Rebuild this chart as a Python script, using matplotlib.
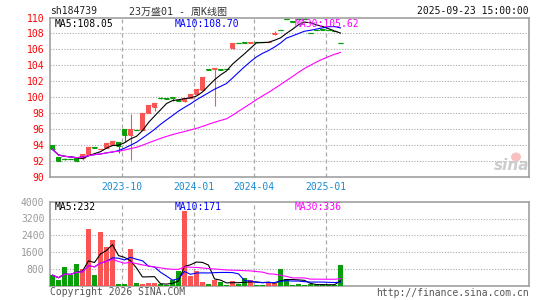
import matplotlib
matplotlib.use('Agg')
import matplotlib.pyplot as plt
from matplotlib.patches import Ellipse
import numpy as np
import pandas as pd

W, H = 545, 300

opens = [94.05, 92.6, 92.35, 92.35, 92.45, 92.45, 92.9, 93.75, 93.5, 93.7,
         94.05, 94.45, 96.0, 95.25, 95.95, 95.9, 98.0, 98.75, 99.95, 99.9,
         100.0, 99.65, 99.6, 99.9, 100.4, 100.95, 103.5, 103.5, 103.5, 103.55,
         106.15, 106.8, 106.9, 106.85, 106.95, 106.95, 106.9, 107.95, 108.45, 109.8,
         109.5, 109.8, 109.8, 108.1, 108.45, 108.5, 108.45, 108.3, 106.8]
closes = [93.5, 92.1, 92.3, 92.3, 92.1, 92.9, 93.8, 93.7, 93.55, 94.3,
          94.55, 93.95, 95.25, 96.0, 95.9, 98.1, 99.05, 99.25, 99.9, 99.85,
          99.95, 99.6, 99.9, 100.4, 101.0, 102.5, 103.45, 103.65, 103.45, 103.5,
          106.75, 106.75, 106.85, 106.9, 106.9, 106.9, 106.95, 108.1, 108.4, 109.75,
          109.45, 109.75, 109.75, 108.05, 108.4, 108.45, 108.4, 108.25, 106.75]
highs = [94.05, 92.6, 92.45, 92.35, 92.45, 92.9, 93.8, 93.75, 93.55, 94.3,
         94.55, 94.45, 96.0, 97.95, 95.95, 98.1, 99.05, 99.25, 100.05, 99.9,
         100.0, 99.65, 99.9, 100.4, 101.0, 102.5, 103.5, 103.65, 103.5, 103.55,
         106.75, 106.8, 106.9, 106.9, 106.95, 106.95, 106.95, 108.3, 108.45, 109.8,
         109.5, 109.8, 109.8, 108.1, 108.45, 108.5, 108.45, 108.3, 106.8]
lows = [93.5, 92.1, 92.2, 92.3, 92.1, 92.2, 92.9, 93.7, 93.5, 93.7,
        94.05, 93.05, 94.4, 92.2, 95.9, 95.9, 98.0, 98.35, 99.8, 99.85,
        99.55, 99.6, 99.4, 99.9, 100.4, 100.95, 103.45, 98.9, 103.45, 103.5,
        106.0, 106.75, 106.85, 106.85, 106.9, 106.9, 106.9, 107.85, 108.4, 109.75,
        109.45, 109.75, 109.75, 108.05, 108.4, 108.45, 108.4, 108.25, 106.75]
volumes = [500, 260, 890, 500, 1030, 810, 2680, 500, 2540, 1860,
           2200, 70, 70, 1760, 110, 70, 110, 110, 60, 30,
           260, 690, 3550, 450, 690, 160, 60, 260, 160, 25,
           210, 60, 350, 250, 40, 40, 160, 150, 780, 340,
           40, 70, 40, 60, 50, 40, 40, 40, 990]

date_labels = ['2023-10', '2024-01', '2024-04', '2025-01']
date_idx = [12, 24, 34, 46]
price_ticks = [90, 92, 94, 96, 98, 100, 102, 104, 106, 108, 110]
vol_ticks = [800, 1600, 2400, 3200, 4000]

RED = '#fa5555'
GREEN = '#0a9e0a'
GRID = '#aaaaaa'
FRAME = '#999999'
MONO = 'DejaVu Sans Mono'

o = np.array(opens); c = np.array(closes)
hi = np.array(highs); lo = np.array(lows)
v = np.array(volumes, dtype=float)
x = np.arange(len(c))
up = c >= o
cols = np.where(up, RED, GREEN)

s = pd.Series(c)
ma5 = s.rolling(5, min_periods=1).mean()
ma10 = s.rolling(10, min_periods=1).mean()
ma30 = s.rolling(30, min_periods=1).mean()
vs = pd.Series(v)
vma5 = vs.rolling(5, min_periods=1).mean()
vma10 = vs.rolling(10, min_periods=1).mean()
vma30 = vs.rolling(30, min_periods=1).mean()

fig = plt.figure(figsize=(W / 100, H / 100), dpi=100)
fig.patch.set_facecolor('white')

def px(xp, yp):
    return xp / W, 1 - yp / H

L, R = 50, 529.3
xlim = ((L - 52.5) / 6, (R - 52.5) / 6)

ptop, pbot = 17.5, 177.3
axp = fig.add_axes([L / W, 1 - pbot / H, (R - L) / W, (pbot - ptop) / H])
vtop, vbot = 201.7, 285.7
axv = fig.add_axes([L / W, 1 - vbot / H, (R - L) / W, (vbot - vtop) / H])

for ax in (axp, axv):
    ax.set_xlim(*xlim)
    for sp in ax.spines.values():
        sp.set_color(FRAME)
        sp.set_linewidth(1.1)
    ax.tick_params(length=0)
    ax.set_xticks([])
    for di in date_idx:
        ax.axvline(di - 0.42, color=GRID, lw=0.9, ls=(0, (3.2, 2.4)), zorder=1)

axp.set_ylim(90, 110)
axp.set_yticks(price_ticks)
axp.set_yticklabels([str(t) for t in price_ticks], color='#ff0000',
                    fontsize=7, family=MONO)
axp.tick_params(axis='y', pad=4)
for t in price_ticks[1:-1]:
    axp.axhline(t, color=GRID, lw=0.8, ls=(0, (1, 1.5)), zorder=1)

axp.vlines(x, lo, hi, colors=cols, lw=0.8, zorder=3)
axp.bar(x, np.abs(c - o), bottom=np.minimum(o, c), width=0.82, color=cols,
        linewidth=0, zorder=3)
axp.hlines(o, x - 0.41, x + 0.41, colors=cols, lw=0.8, zorder=3)
axp.hlines(c, x - 0.41, x + 0.41, colors=cols, lw=0.8, zorder=3)

axp.plot(x, ma5, color='black', lw=0.8, zorder=4)
axp.plot(x, ma10, color='#0000ff', lw=0.8, zorder=4)
axp.plot(x, ma30, color='#ff00ff', lw=0.8, zorder=5)

for di, lab in zip(date_idx, date_labels):
    axp.text(di - 0.42, -0.058, lab, transform=axp.get_xaxis_transform(),
             ha='center', va='center', fontsize=7, family=MONO,
             color='#1a8ad4', clip_on=False)

axv.set_ylim(0, 4000)
axv.set_yticks(vol_ticks)
axv.set_yticklabels([str(t) for t in vol_ticks], color='#999999',
                    fontsize=7, family=MONO)
axv.tick_params(axis='y', pad=4)
for t in vol_ticks[:-1]:
    axv.axhline(t, color=GRID, lw=0.8, ls=(0, (1, 1.5)), zorder=1)
axv.bar(x, v, width=0.82, color=cols, linewidth=0, zorder=3)
axv.plot(x, vma5, color='black', lw=0.8, zorder=4)
axv.plot(x, vma10, color='#0000ff', lw=0.8, zorder=4)
axv.plot(x, vma30, color='#ff00ff', lw=0.8, zorder=5)

fig.text(*px(50, 11.5), 'sh184739', fontsize=7, family=MONO, color='#222222',
         ha='left', va='center')
fig.text(*px(178, 11.5), '23万盛01 - 周K线图', fontsize=7.2,
         family=['DejaVu Sans Mono', 'Noto Sans CJK SC'], color='#333333',
         ha='center', va='center')
fig.text(*px(529, 11.5), '2025-09-23 15:00:00', fontsize=7, family=MONO,
         color='#111111', ha='right', va='center')

fig.text(*px(55, 24), 'MA5:%.2f' % ma5.iloc[-1], fontsize=7, family=MONO,
         color='black', ha='left', va='center')
fig.text(*px(174.7, 24), 'MA10:%.2f' % ma10.iloc[-1], fontsize=7, family=MONO,
         color='#0000ff', ha='left', va='center')
fig.text(*px(295, 24), 'MA30:%.2f' % ma30.iloc[-1], fontsize=7, family=MONO,
         color='#ff00ff', ha='left', va='center', zorder=10)

fig.text(*px(55, 206.5), 'MA5:%d' % round(vma5.iloc[-1]), fontsize=7, family=MONO,
         color='black', ha='left', va='center')
fig.text(*px(174.7, 206.5), 'MA10:%d' % round(vma10.iloc[-1]), fontsize=7,
         family=MONO, color='#0000ff', ha='left', va='center')
fig.text(*px(295, 206.5), 'MA30:%d' % round(vma30.iloc[-1]), fontsize=7,
         family=MONO, color='#ff00ff', ha='left', va='center')

fig.text(*px(50, 292), 'Copyright 2026 SINA.COM', fontsize=7, family=MONO,
         color='#555555', ha='left', va='center')
fig.text(*px(529, 293), 'http://finance.sina.com.cn', fontsize=7, family=MONO,
         color='#555555', ha='right', va='center')

# sina watermark
fig.add_artist(Ellipse(px(516, 157), 10 / W, 9 / H, transform=fig.transFigure,
                       facecolor='#f8c0c0', edgecolor='none', zorder=1))
fig.text(*px(512, 166), 'sina', fontsize=11, style='italic', weight='bold',
         color='#cccccc', ha='center', va='center', zorder=2)

fig.savefig('out.png', dpi=100, facecolor='white')
